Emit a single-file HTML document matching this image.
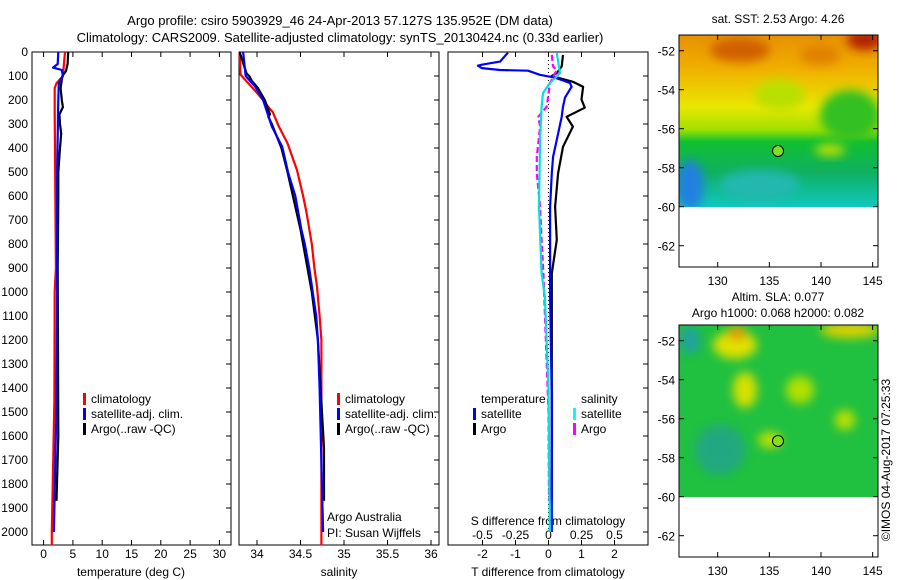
<!DOCTYPE html>
<html><head><meta charset="utf-8"><style>
body{margin:0;background:#fff;}
svg{display:block;font-family:"Liberation Sans",sans-serif;font-size:12px;}
</style></head><body>
<svg id="s" width="900" height="580" viewBox="0 0 900 580">
<defs>
<filter id="bl" x="-50%" y="-50%" width="200%" height="200%"><feGaussianBlur stdDeviation="5"/></filter>
<clipPath id="c1"><rect x="679" y="35" width="199" height="172"/></clipPath>
<clipPath id="c2"><rect x="679" y="325" width="199" height="172"/></clipPath>
<linearGradient id="sst" x1="0" y1="0" x2="0" y2="1">
<stop offset="0" stop-color="#e89000"/><stop offset="0.2" stop-color="#f0b000"/><stop offset="0.42" stop-color="#e8e800"/><stop offset="0.55" stop-color="#a0e000"/><stop offset="0.62" stop-color="#10c030"/><stop offset="0.8" stop-color="#10b060"/><stop offset="1" stop-color="#10c8c0"/>
</linearGradient>
</defs>
<g>
<text x="340" y="25" text-anchor="middle" font-size="13">Argo profile: csiro 5903929_46 24-Apr-2013 57.127S 135.952E (DM data)</text>
<text x="340" y="42" text-anchor="middle" font-size="13">Climatology: CARS2009. Satellite-adjusted climatology: synTS_20130424.nc (0.33d earlier)</text>
</g>
<g id="p1"></g>
<g id="p2"></g>
<g id="p3"></g>
<g>
<text x="778" y="23" text-anchor="middle">sat. SST: 2.53 Argo: 4.26</text>
<g clip-path="url(#c1)">
<rect x="679" y="35" width="199" height="172" fill="url(#sst)"/>
<ellipse cx="740" cy="50" rx="30" ry="12" fill="#d06000" filter="url(#bl)"/>
<ellipse cx="865" cy="40" rx="18" ry="10" fill="#b02000" filter="url(#bl)"/>
<ellipse cx="820" cy="55" rx="20" ry="10" fill="#e08000" filter="url(#bl)"/>
<ellipse cx="850" cy="115" rx="30" ry="25" fill="#30c020" filter="url(#bl)"/>
<ellipse cx="780" cy="95" rx="25" ry="15" fill="#b8e000" filter="url(#bl)"/>
<ellipse cx="690" cy="185" rx="14" ry="25" fill="#2080e0" filter="url(#bl)"/>
<ellipse cx="760" cy="185" rx="40" ry="15" fill="#20b8b0" filter="url(#bl)"/>
<ellipse cx="830" cy="150" rx="15" ry="6" fill="#c0e000" filter="url(#bl)"/>
</g>
<rect x="679" y="35" width="199" height="232" fill="none" stroke="#000"/>
<circle cx="778" cy="151" r="5.5" fill="#80e020" stroke="#000"/>
</g>
<g>
<text x="778" y="301" text-anchor="middle">Altim. SLA: 0.077</text>
<text x="778" y="317" text-anchor="middle">Argo h1000: 0.068 h2000: 0.082</text>
<g clip-path="url(#c2)">
<rect x="679" y="325" width="199" height="172" fill="#20c040"/>
<ellipse cx="735" cy="345" rx="22" ry="14" fill="#e0e000" filter="url(#bl)"/>
<ellipse cx="737" cy="333" rx="8" ry="6" fill="#f09000" filter="url(#bl)"/>
<ellipse cx="745" cy="390" rx="12" ry="18" fill="#d8e000" filter="url(#bl)"/>
<ellipse cx="800" cy="390" rx="14" ry="14" fill="#b0e000" filter="url(#bl)"/>
<ellipse cx="850" cy="330" rx="30" ry="8" fill="#e0d000" filter="url(#bl)"/>
<ellipse cx="845" cy="420" rx="10" ry="10" fill="#c0e000" filter="url(#bl)"/>
<ellipse cx="690" cy="340" rx="10" ry="14" fill="#20a0a0" filter="url(#bl)"/>
<ellipse cx="720" cy="450" rx="25" ry="25" fill="#20a880" filter="url(#bl)"/>
<ellipse cx="770" cy="440" rx="12" ry="8" fill="#c0e000" filter="url(#bl)"/>
</g>
<rect x="679" y="325" width="199" height="232" fill="none" stroke="#000"/>
<circle cx="778" cy="441" r="5.5" fill="#80e020" stroke="#000"/>
<text transform="translate(890,460) rotate(-90)" text-anchor="middle">©IMOS 04-Aug-2017 07:25:33</text>
</g>
<g id="maxes"></g>
</svg>
<script>
// ---- data ----
const tClimD=[0,100,130,150,250,900,1000,1450,2000,2055];
const tClimV=[3.65,3.3,2.2,1.9,1.9,2.1,1.9,1.85,1.4,1.4];
const tSatD=[0,50,65,75,100,130,200,500,1000,1450,2000];
const tSatV=[2.5,2.4,1.6,3.1,3.3,2.6,2.5,2.3,2.3,2.2,1.75];
const tArgoD=[0,50,80,100,150,200,230,260,300,340,400,500,600,900,1600,1870];
const tArgoV=[4.2,4.1,3.8,3.2,2.9,3.1,3.3,2.7,2.8,3.0,2.8,2.5,2.5,2.4,2.5,2.2];
const sClimD=[0,94,150,200,229,250,310,380,492,600,671,800,900,978,1100,1200,1400,2000,2055];
const sClimV=[33.80,33.81,33.95,34.07,34.13,34.18,34.25,34.35,34.46,34.53,34.57,34.63,34.66,34.69,34.72,34.74,34.74,34.74,34.74];
const sSatD=[0,100,145,200,310,395,505,600,740,800,900,1000,1100,1200,1400,2000];
const sSatV=[33.84,33.87,33.98,34.07,34.17,34.29,34.36,34.44,34.51,34.55,34.60,34.64,34.68,34.70,34.72,34.76];
const sArgoD=[0,90,100,120,150,200,260,270,300,400,500,740,1000,1200,1650,1870];
const sArgoV=[33.80,33.88,33.91,33.94,34.01,34.09,34.15,34.13,34.17,34.28,34.35,34.50,34.63,34.70,34.77,34.77];
const dTSatD=[3,40,53,57,67,75,78,95,107,129,145,190,228,270,366,436,505,645,1020,1450,2000];
const dTSatV=[-1.23,-1.47,-2.02,-2.14,-2.02,-1.47,-0.62,-0.26,0.2,0.65,0.7,0.5,0.44,0.4,0.25,0.14,0.1,0.05,0.05,0.1,0.1];
const dTArgoD=[12,60,88,100,124,145,198,232,270,311,395,505,645,783,922,1020,1870];
const dTArgoV=[0.44,0.4,0.25,0.1,0.74,1.05,1.0,1.1,0.55,0.74,0.44,0.29,0.2,0.25,0.1,0.1,0.1];
const dSSatD=[4,88,129,171,228,366,645,922,1020,1400,2000];
const dSSatV=[0.062,0.087,0.011,-0.042,-0.052,-0.064,-0.072,-0.052,-0.027,0,0.01];
const dSArgoD=[12,60,75,129,228,270,311,436,505,645,783,922,1500,1870];
const dSArgoV=[0.025,0.034,0.062,0.011,-0.014,-0.077,-0.064,-0.089,-0.089,-0.064,-0.052,-0.039,0,0.004];
const depthTicks=[0,100,200,300,400,500,600,700,800,900,1000,1100,1200,1300,1400,1500,1600,1700,1800,1900,2000];
const tTicks=[0,5,10,15,20,25,30];
const sTicks=[34,34.5,35,35.5,36];
const dTTicks=[-2,-1,0,1,2];
const dSTicks=[-0.5,-0.25,0,0.25,0.5];
const lonTicks=[130,135,140,145];
const latTicks=[-52,-54,-56,-58,-60,-62];
// ---- axes ----
const NS='http://www.w3.org/2000/svg';
const yD=d=>52+d*0.24;
const xT=t=>43.6+t*5.86;
const xS=s=>257+(s-34)*87;
const xDT=v=>548.5+v*33;
const xDS=v=>548.5+v*132;
const lon=l=>717.7+(l-130)*10.33;
const lat=(a,top)=>top+15.7+(-52-a)*19.5;
function mk(p,tag,at){const e=document.createElementNS(NS,tag);for(const k in at)e.setAttribute(k,at[k]);p.appendChild(e);return e;}
function txt(p,x,y,s,anc){const e=mk(p,'text',{x:x,y:y,'text-anchor':anc||'middle'});e.textContent=s;return e;}
function line(p,D,V,fx,col,name,dash){
  const pts=D.map((d,i)=>fx(V[i]).toFixed(1)+','+yD(d).toFixed(1)).join(' ');
  const e=mk(p,'polyline',{points:pts,fill:'none',stroke:col,'stroke-width':2.2,'stroke-linejoin':'round'});
  if(dash)e.setAttribute('stroke-dasharray',dash);
  
  
}
function frame(p,x0,x1){
  mk(p,'rect',{x:x0,y:52,width:x1-x0,height:493,fill:'none',stroke:'#000'});
  depthTicks.forEach(d=>{mk(p,'line',{x1:x1,x2:x1-5,y1:yD(d),y2:yD(d),stroke:'#000'});});
}
function xticks(p,ticks,fx,labels,y){
  ticks.forEach((t,i)=>{const x=fx(t);mk(p,'line',{x1:x,x2:x,y1:545,y2:540,stroke:'#000'});mk(p,'line',{x1:x,x2:x,y1:52,y2:57,stroke:'#000'});
    if(labels)txt(p,x,y,labels[i]);});
}
function legend(p,x,y,items){
  items.forEach((it,i)=>{mk(p,'rect',{x:x,y:y+i*15-10,width:3,height:12,fill:it[1]});
    txt(p,x+8,y+i*15,it[0],'start');});
}
// panel 1
const p1=document.getElementById('p1');
frame(p1,32,231);
depthTicks.forEach(d=>{txt(p1,28,yD(d)+4,String(d),'end');});
xticks(p1,tTicks,xT,tTicks.map(String),558);
txt(p1,131,576,'temperature (deg C)');
line(p1,tClimD,tClimV,xT,'#ff0000','temp-climatology-line');
line(p1,tArgoD,tArgoV,xT,'#000000','temp-argo-line');
line(p1,tSatD,tSatV,xT,'#0000ff','temp-satellite-line');
legend(p1,83,403,[['climatology','#f00'],['satellite-adj. clim.','#00f'],['Argo(..raw -QC)','#000']]);
// panel 2
const p2=document.getElementById('p2');
frame(p2,239,439);
xticks(p2,sTicks,xS,['34','34.5','35','35.5','36'],558);
txt(p2,339,576,'salinity');
line(p2,sClimD,sClimV,xS,'#ff0000','sal-climatology-line');
line(p2,sArgoD,sArgoV,xS,'#000000','sal-argo-line');
line(p2,sSatD,sSatV,xS,'#0000ff','sal-satellite-line');
legend(p2,337,403,[['climatology','#f00'],['satellite-adj. clim.','#00f'],['Argo(..raw -QC)','#000']]);
txt(p2,327,521,'Argo Australia','start');
txt(p2,327,537,'PI: Susan Wijffels','start');
// panel 3
const p3=document.getElementById('p3');
frame(p3,448,648);
xticks(p3,dTTicks,xDT,dTTicks.map(String),558);
dSTicks.forEach(v=>{txt(p3,xDS(v),539,String(v));});
txt(p3,548,525,'S difference from climatology');
txt(p3,548,576,'T difference from climatology');
mk(p3,'line',{x1:548.5,x2:548.5,y1:52,y2:532,stroke:'#000','stroke-dasharray':'1,3'});
line(p3,dTArgoD,dTArgoV,xDT,'#000000','dT-argo-line');
line(p3,dTSatD,dTSatV,xDT,'#0000ff','dT-satellite-line');
line(p3,dSArgoD,dSArgoV,xDS,'#ff00ff','dS-argo-line','6,3');
line(p3,dSSatD,dSSatV,xDS,'#00e0e0','dS-satellite-line');
txt(p3,481,403,'temperature','start');
legend(p3,473,418,[['satellite','#00f'],['Argo','#000']]);
txt(p3,581,403,'salinity','start');
legend(p3,573,418,[['satellite','#0ff'],['Argo','#f0f']]);
// map axes
const ma=document.getElementById('maxes');
[35,325].forEach(top=>{
  lonTicks.forEach(l=>{const x=lon(l);mk(ma,'line',{x1:x,x2:x,y1:top,y2:top+5,stroke:'#000'});mk(ma,'line',{x1:x,x2:x,y1:top+232,y2:top+227,stroke:'#000'});txt(ma,x,top+250,String(l));});
  latTicks.forEach(a=>{const y=lat(a,top);mk(ma,'line',{x1:679,x2:684,y1:y,y2:y,stroke:'#000'});mk(ma,'line',{x1:878,x2:873,y1:y,y2:y,stroke:'#000'});txt(ma,675,y+5,String(a),'end');});
});
</script>
</body></html>
